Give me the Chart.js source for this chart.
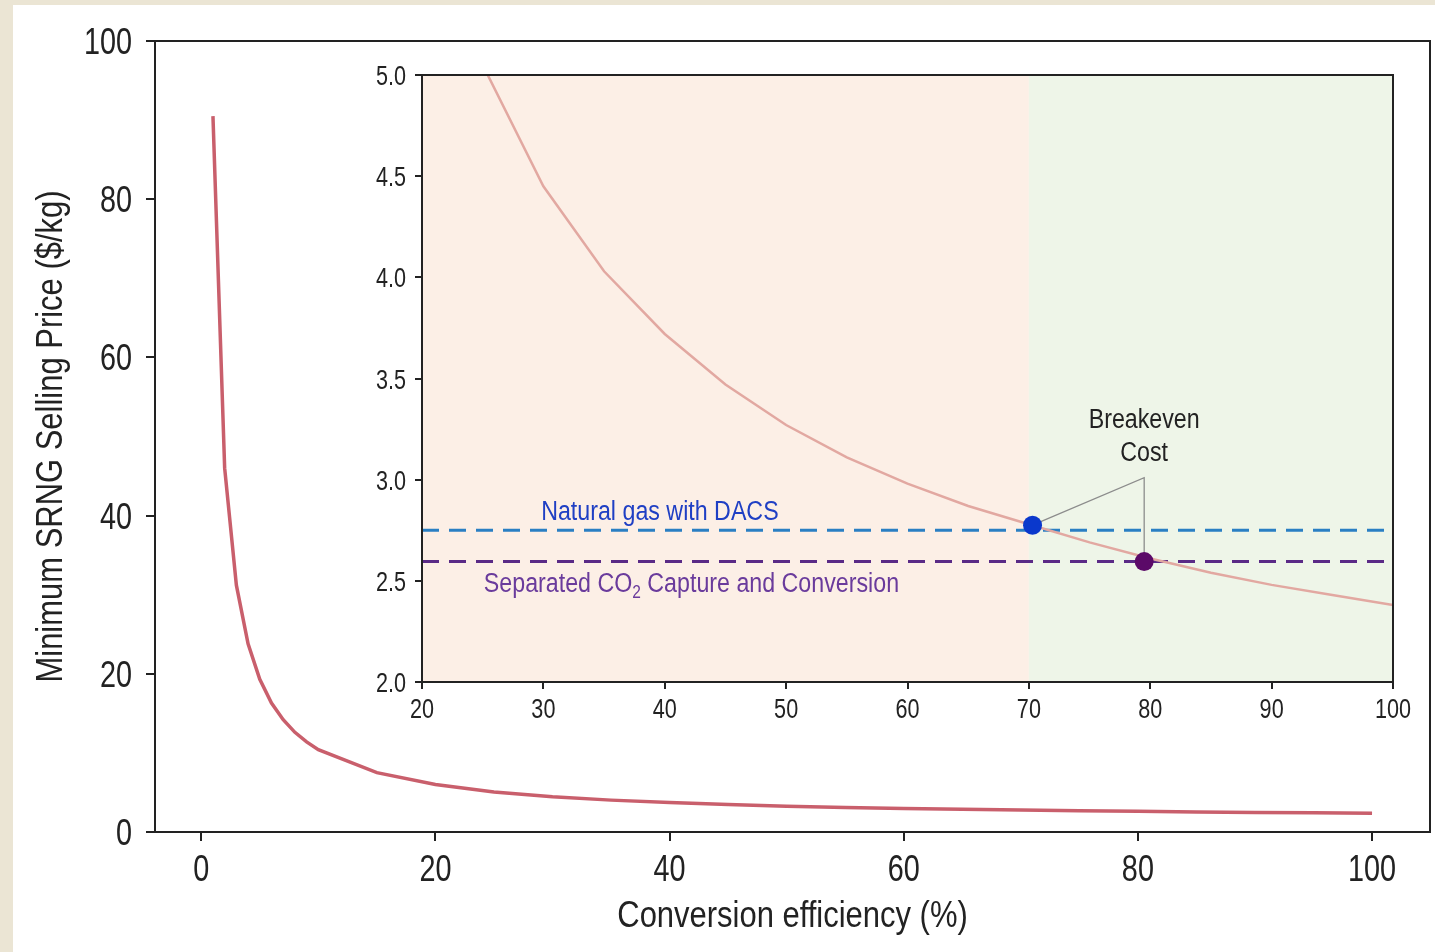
<!DOCTYPE html>
<html>
<head>
<meta charset="utf-8">
<script src="https://cdn.jsdelivr.net/npm/chart.js@4.4.1/dist/chart.umd.min.js"></script>
<style>
  html, body { margin: 0; padding: 0; }
  body { width: 1435px; height: 952px; background: #ebe5d4; position: relative; overflow: hidden; }
  #paper { position: absolute; left: 13px; top: 5px; width: 1422px; height: 947px; background: #fff; }
  .layer { position: absolute; left: 0; top: 0; width: 1435px; height: 952px; }
  #insetChart { pointer-events: none; }
</style>
</head>
<body>
<div id="paper"></div>
<div class="layer"><canvas id="mainChart" width="1435" height="952"></canvas></div>
<div class="layer"><canvas id="insetChart" width="1435" height="952"></canvas></div>
<script>
// conversion efficiency (%) and minimum selling price ($/kg)
const efficiency = [1, 2, 3, 4, 5, 6, 7, 8, 9, 10, 15, 20, 25, 30, 35, 40, 45, 50, 55, 60, 65, 70, 75, 80, 85, 90, 95, 100];
const price = [90.5, 46, 31.2, 23.8, 19.3, 16.3, 14.2, 12.6, 11.4, 10.4, 7.5, 6.0, 5.05, 4.45, 4.03, 3.72, 3.47, 3.27, 3.11, 2.98, 2.87, 2.78, 2.69, 2.61, 2.54, 2.48, 2.43, 2.38];

const mainXTicks = [0, 20, 40, 60, 80, 100];
const mainYTicks = [0, 20, 40, 60, 80, 100];
const insetXTicks = [20, 30, 40, 50, 60, 70, 80, 90, 100];
const insetYTicks = [2.0, 2.5, 3.0, 3.5, 4.0, 4.5, 5.0];

// reference costs (horizontal dashed lines)
const dacsCost = 2.75;
const separatedCost = 2.595;
// breakeven points [efficiency, price]
const dacsBreakeven = [70.3, 2.775];
const separatedBreakeven = [79.5, 2.595];
// shaded zones edges in efficiency
const zoneEdges = [20, 70, 100];

// the original uses a narrow font; none installed, so text is squeezed horizontally
const FONT = "'Liberation Sans', Arial, sans-serif";
const INK = '#222';
const TICK_SQUEEZE = 0.8;
const TEXT_SQUEEZE = 0.86;

function squeezed(ctx, text, x, y, size, color, align, squeeze, rotate) {
  ctx.save();
  ctx.translate(x, y);
  if (rotate) ctx.rotate(-Math.PI / 2);
  ctx.scale(squeeze, 1);
  ctx.font = `${size}px ${FONT}`;
  ctx.fillStyle = color;
  ctx.textAlign = align;
  ctx.textBaseline = 'alphabetic';
  ctx.fillText(text, 0, 0);
  ctx.restore();
}

// draws the box around the plot (top/right spines)
const frame = {
  id: 'frame',
  afterDatasetsDraw(chart) {
    const a = chart.chartArea, ctx = chart.ctx;
    ctx.save();
    ctx.strokeStyle = INK;
    ctx.lineWidth = 2;
    ctx.strokeRect(a.left, a.top, a.right - a.left, a.bottom - a.top);
    ctx.restore();
  }
};

const mainLabels = {
  id: 'mainLabels',
  afterDraw(chart) {
    const { ctx, chartArea: a, scales: { x, y } } = chart;
    x.ticks.forEach(t => squeezed(ctx, String(t.value), x.getPixelForValue(t.value), a.bottom + 48.5, 36, INK, 'center', TICK_SQUEEZE));
    y.ticks.forEach(t => squeezed(ctx, String(t.value), a.left - 23, y.getPixelForValue(t.value) + 13, 36, INK, 'right', TICK_SQUEEZE));
    squeezed(ctx, 'Conversion efficiency (%)', (a.left + a.right) / 2, a.bottom + 95, 36, INK, 'center', TEXT_SQUEEZE);
    squeezed(ctx, 'Minimum SRNG Selling Price ($/kg)', 62, (a.top + a.bottom) / 2, 36, INK, 'center', TEXT_SQUEEZE, true);
  }
};

new Chart(document.getElementById('mainChart'), {
  type: 'line',
  data: {
    datasets: [{
      data: efficiency.map((e, i) => ({ x: e, y: price[i] })),
      borderColor: '#c95f6c',
      borderWidth: 3.5,
      pointRadius: 0,
      tension: 0
    }]
  },
  options: {
    responsive: false,
    animation: false,
    layout: { padding: { top: 41, right: 5, left: 0, bottom: 0 } },
    plugins: { legend: { display: false }, tooltip: { enabled: false } },
    scales: {
      x: {
        type: 'linear',
        min: -3.95,
        max: 104.95,
        afterBuildTicks: s => { s.ticks = mainXTicks.map(v => ({ value: v })); },
        afterFit: s => { s.height = 952 - 832; },
        grid: { drawOnChartArea: false, drawTicks: true, tickLength: 9, color: INK, lineWidth: 2 },
        border: { color: INK, width: 2 },
        ticks: { display: false }
      },
      y: {
        min: 0,
        max: 100,
        afterBuildTicks: s => { s.ticks = mainYTicks.map(v => ({ value: v })); },
        afterFit: s => { s.width = 155; },
        grid: { drawOnChartArea: false, drawTicks: true, tickLength: 9, color: INK, lineWidth: 2 },
        border: { color: INK, width: 2 },
        ticks: { display: false }
      }
    }
  },
  plugins: [frame, mainLabels]
});

// shading + annotations for the inset
const insetDecor = {
  id: 'insetDecor',
  beforeDatasetsDraw(chart) {
    const { ctx, chartArea: a, scales: { x, y } } = chart;
    const zoneColors = ['#fcefe6', '#eef5e8'];
    ctx.save();
    for (let i = 0; i < zoneEdges.length - 1; i++) {
      const x0 = x.getPixelForValue(zoneEdges[i]);
      const x1 = x.getPixelForValue(zoneEdges[i + 1]);
      ctx.fillStyle = zoneColors[i];
      ctx.fillRect(x0, a.top, x1 - x0, a.bottom - a.top);
    }
    // leader lines from the "Breakeven Cost" label to the two points
    const apexX = x.getPixelForValue(79.5), apexY = y.getPixelForValue(3.01);
    ctx.strokeStyle = '#8c8c8c';
    ctx.lineWidth = 1.3;
    ctx.beginPath();
    ctx.moveTo(x.getPixelForValue(dacsBreakeven[0]), y.getPixelForValue(dacsBreakeven[1]));
    ctx.lineTo(apexX, apexY);
    ctx.lineTo(x.getPixelForValue(separatedBreakeven[0]), y.getPixelForValue(separatedBreakeven[1]));
    ctx.stroke();
    ctx.restore();
  },
  afterDraw(chart) {
    const { ctx, chartArea: a, scales: { x, y } } = chart;
    x.ticks.forEach(t => squeezed(ctx, String(t.value), x.getPixelForValue(t.value), a.bottom + 36, 27, INK, 'center', TICK_SQUEEZE));
    y.ticks.forEach(t => squeezed(ctx, t.value.toFixed(1), a.left - 16, y.getPixelForValue(t.value) + 10, 27, INK, 'right', TICK_SQUEEZE));

    squeezed(ctx, 'Breakeven', x.getPixelForValue(79.5), y.getPixelForValue(3.257), 27, INK, 'center', TEXT_SQUEEZE);
    squeezed(ctx, 'Cost', x.getPixelForValue(79.5), y.getPixelForValue(3.091), 27, INK, 'center', TEXT_SQUEEZE);
    squeezed(ctx, 'Natural gas with DACS', x.getPixelForValue(39.6), y.getPixelForValue(2.802), 27, '#1f3fc4', 'center', TEXT_SQUEEZE);

    // label with subscript
    const parts = ['Separated CO', '2', ' Capture and Conversion'];
    ctx.save();
    ctx.font = `27px ${FONT}`;
    const w0 = ctx.measureText(parts[0]).width * TEXT_SQUEEZE;
    const w2 = ctx.measureText(parts[2]).width * TEXT_SQUEEZE;
    ctx.font = `18px ${FONT}`;
    const w1 = ctx.measureText(parts[1]).width * TEXT_SQUEEZE;
    ctx.restore();
    let sx = x.getPixelForValue(42.2) - (w0 + w1 + w2) / 2;
    const sy = y.getPixelForValue(2.446);
    const purple = '#6a3b9c';
    squeezed(ctx, parts[0], sx, sy, 27, purple, 'left', TEXT_SQUEEZE); sx += w0;
    squeezed(ctx, parts[1], sx, sy + 6, 18, purple, 'left', TEXT_SQUEEZE); sx += w1;
    squeezed(ctx, parts[2], sx, sy, 27, purple, 'left', TEXT_SQUEEZE);
  }
};

new Chart(document.getElementById('insetChart'), {
  type: 'line',
  data: {
    datasets: [
      {
        data: efficiency.map((e, i) => ({ x: e, y: price[i] })),
        borderColor: '#e2a8a1',
        borderWidth: 2.5,
        pointRadius: 0,
        tension: 0,
        order: 2
      },
      {
        data: [{ x: 20, y: dacsCost }, { x: 100, y: dacsCost }],
        borderColor: '#2a7fc3',
        borderWidth: 3,
        borderDash: [17, 10],
        pointRadius: 0,
        order: 3
      },
      {
        data: [{ x: 20, y: separatedCost }, { x: 100, y: separatedCost }],
        borderColor: '#5a2a86',
        borderWidth: 3,
        borderDash: [17, 10],
        pointRadius: 0,
        order: 3
      },
      {
        type: 'scatter',
        data: [{ x: dacsBreakeven[0], y: dacsBreakeven[1] }, { x: separatedBreakeven[0], y: separatedBreakeven[1] }],
        pointRadius: 9.5,
        pointBackgroundColor: ['#0a38cc', '#5b0a68'],
        pointBorderWidth: 0,
        order: 0
      }
    ]
  },
  options: {
    responsive: false,
    animation: false,
    layout: { padding: { top: 75, right: 1435 - 1393, left: 0, bottom: 0 } },
    plugins: { legend: { display: false }, tooltip: { enabled: false } },
    scales: {
      x: {
        type: 'linear',
        min: 20,
        max: 100,
        afterBuildTicks: s => { s.ticks = insetXTicks.map(v => ({ value: v })); },
        afterFit: s => { s.height = 952 - 682; },
        grid: { drawOnChartArea: false, drawTicks: true, tickLength: 7, color: INK, lineWidth: 2 },
        border: { color: INK, width: 2 },
        ticks: { display: false }
      },
      y: {
        min: 2,
        max: 5,
        afterBuildTicks: s => { s.ticks = insetYTicks.map(v => ({ value: v })); },
        afterFit: s => { s.width = 422; },
        grid: { drawOnChartArea: false, drawTicks: true, tickLength: 7, color: INK, lineWidth: 2 },
        border: { color: INK, width: 2 },
        ticks: { display: false }
      }
    }
  },
  plugins: [insetDecor, frame]
});
</script>
</body>
</html>
